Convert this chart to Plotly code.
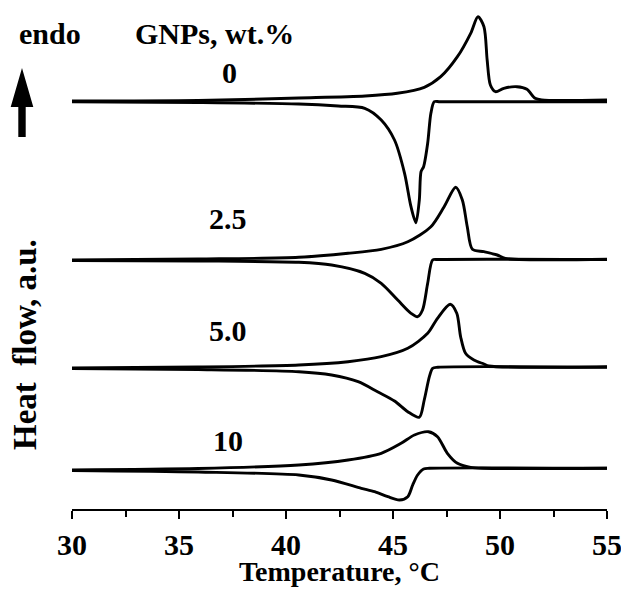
import plotly.graph_objects as go

# ---- data (temperature in deg C, heat flow in a.u., curves offset vertically) ----
gnp_labels = ["0", "2.5", "5.0", "10"]

T_heat_0 = [30.0, 35.9, 40.6, 43.7, 45.2, 46.46, 47.23, 48.01, 48.63, 48.97, 49.25, 49.40, 49.55, 49.79, 50.18, 50.79, 51.26, 51.64, 51.95, 55.0]
Q_heat_0 = [408, 408.5, 411, 413, 415.7, 421.7, 432.3, 452.3, 475.7, 492.3, 482.3, 449, 424, 417.3, 420.7, 422.3, 419.7, 410.7, 409, 409]
T_cool_0 = [30.0, 35.9, 40.6, 42.44, 43.68, 44.45, 45.07, 45.54, 45.84, 46.07, 46.23, 46.31, 46.43, 46.62, 46.77, 46.93, 47.2, 55.0]
Q_cool_0 = [407.3, 406.5, 405, 403, 400.7, 389, 369, 335.7, 302.3, 286.3, 309, 337.3, 342.3, 365.7, 395.7, 407.3, 407.3, 407.3]

T_heat_25 = [30.0, 35.9, 40.6, 42.9, 44.45, 45.69, 46.77, 47.39, 47.93, 48.24, 48.47, 48.71, 49.25, 49.87, 50.25, 55.0]
Q_heat_25 = [249, 250, 251.7, 255.7, 259.7, 267.3, 282.3, 302.3, 321.7, 309, 282.3, 259.7, 257.3, 254, 250.7, 249.7]
T_cool_25 = [30.0, 35.9, 40.6, 42.13, 43.68, 44.45, 45.22, 45.84, 46.15, 46.38, 46.62, 46.85, 47.1, 55.0]
Q_cool_25 = [248.5, 248, 246.7, 244, 235.7, 225.7, 209, 195.7, 192.3, 199, 225.7, 249, 249.5, 249.5]

T_heat_50 = [30.0, 35.9, 40.6, 42.9, 44.45, 45.69, 46.62, 47.08, 47.67, 47.98, 48.16, 48.39, 48.78, 49.25, 49.48, 55.0]
Q_heat_50 = [141, 142, 144, 147.3, 152.3, 160.7, 175.7, 190.7, 204.7, 195.7, 172.3, 155.7, 149, 145, 143, 142.3]
T_cool_50 = [30.0, 35.9, 40.6, 42.13, 43.37, 44.3, 45.07, 45.69, 46.23, 46.46, 46.7, 46.85, 47.1, 55.0]
Q_cool_50 = [140.5, 139.5, 137.3, 134, 127.3, 117, 108, 97.3, 91.7, 109, 132.3, 140.7, 141.7, 141.7]

T_heat_10 = [30.0, 35.9, 40.6, 42.9, 44.45, 45.38, 46.0, 46.66, 47.08, 47.54, 48.01, 48.63, 49.17, 55.0]
Q_heat_10 = [39, 40.5, 44, 49, 55.7, 65.7, 74, 77.3, 72.3, 55.7, 45.7, 41.7, 40.7, 40.7]
T_cool_10 = [30.0, 35.9, 40.6, 42.13, 43.52, 44.14, 44.76, 45.3, 45.69, 45.92, 46.15, 46.43, 46.7, 55.0]
Q_cool_10 = [38.5, 37, 34, 29, 20.7, 17.3, 12.3, 9, 12.3, 24, 34, 40, 40.7, 40.7]

x_ticks = [30, 35, 40, 45, 50, 55]
x_minor_ticks = [32.5, 37.5, 42.5, 47.5, 52.5]

series = [
    ("0 heating", T_heat_0, Q_heat_0), ("0 cooling", T_cool_0, Q_cool_0),
    ("2.5 heating", T_heat_25, Q_heat_25), ("2.5 cooling", T_cool_25, Q_cool_25),
    ("5.0 heating", T_heat_50, Q_heat_50), ("5.0 cooling", T_cool_50, Q_cool_50),
    ("10 heating", T_heat_10, Q_heat_10), ("10 cooling", T_cool_10, Q_cool_10),
]

# ---- layout geometry (page body has an 8px margin; keep the page from overflowing) ----
OFF = 8
W, H = 629 - OFF, 596 - 2 * OFF
ML, MR, MT, MB = 64, 22, 2, 79
PW, PH = W - ML - MR, H - MT - MB

def px2paper_x(px):
    return (px - OFF - ML) / PW

def px2paper_y(py):
    return (H - MB - (py - OFF)) / PH

FONT = "Liberation Serif"

fig = go.Figure()
for name, xs, ys in series:
    fig.add_trace(go.Scatter(
        x=xs, y=ys, mode="lines", name=name,
        line=dict(color="black", width=2.9, shape="spline", smoothing=0.8),
        showlegend=False, hoverinfo="skip",
    ))

def txt(text, px, py, size, angle=0):
    return dict(text=text, x=px2paper_x(px), y=px2paper_y(py),
                xref="paper", yref="paper", showarrow=False, textangle=angle,
                xanchor="center", yanchor="middle",
                font=dict(family=FONT, size=size, color="black", weight="bold"))

label_px = [(229.5, 72.5), (228, 218), (228, 330), (228, 440)]
annotations = [txt(lab, lx, ly, 30) for lab, (lx, ly) in zip(gnp_labels, label_px)]
annotations += [
    txt("endo", 50, 33, 30),
    txt("GNPs, wt.%", 214, 33, 30),
    txt("Heat  flow, a.u.", 25, 345, 33, -90),
    txt("Temperature, °C", 339, 571, 28),
]

# endo arrow (pixel outline converted to paper coords)
tip, bl, br = (22, 68), (10.7, 107), (33.3, 107)
s_l, s_r, s_b = 18.3, 25.7, 137
pts = [tip, br, (s_r, bl[1]), (s_r, s_b), (s_l, s_b), (s_l, bl[1]), bl]
path = "M " + " L ".join("%.5f,%.5f" % (px2paper_x(a), px2paper_y(b)) for a, b in pts) + " Z"
shapes = [dict(type="path", path=path, xref="paper", yref="paper",
               fillcolor="black", line=dict(color="black", width=0))]

fig.update_layout(
    width=W, height=H,
    margin=dict(l=ML, r=MR, t=MT, b=MB, pad=0),
    paper_bgcolor="white", plot_bgcolor="white",
    annotations=annotations, shapes=shapes,
    xaxis=dict(range=[30, 55], tickvals=x_ticks, ticks="outside", ticklen=8, tickwidth=2,
               tickcolor="black", showline=True, linewidth=2, linecolor="black",
               showgrid=False, zeroline=False, ticklabeloverflow="allow",
               tickfont=dict(family=FONT, size=30, color="black", weight="bold"),
               minor=dict(tickvals=x_minor_ticks, ticks="outside",
                          ticklen=6, tickwidth=2, tickcolor="black", showgrid=False)),
    yaxis=dict(range=[0, PH], visible=False),
)

fig.write_html("out.html")
